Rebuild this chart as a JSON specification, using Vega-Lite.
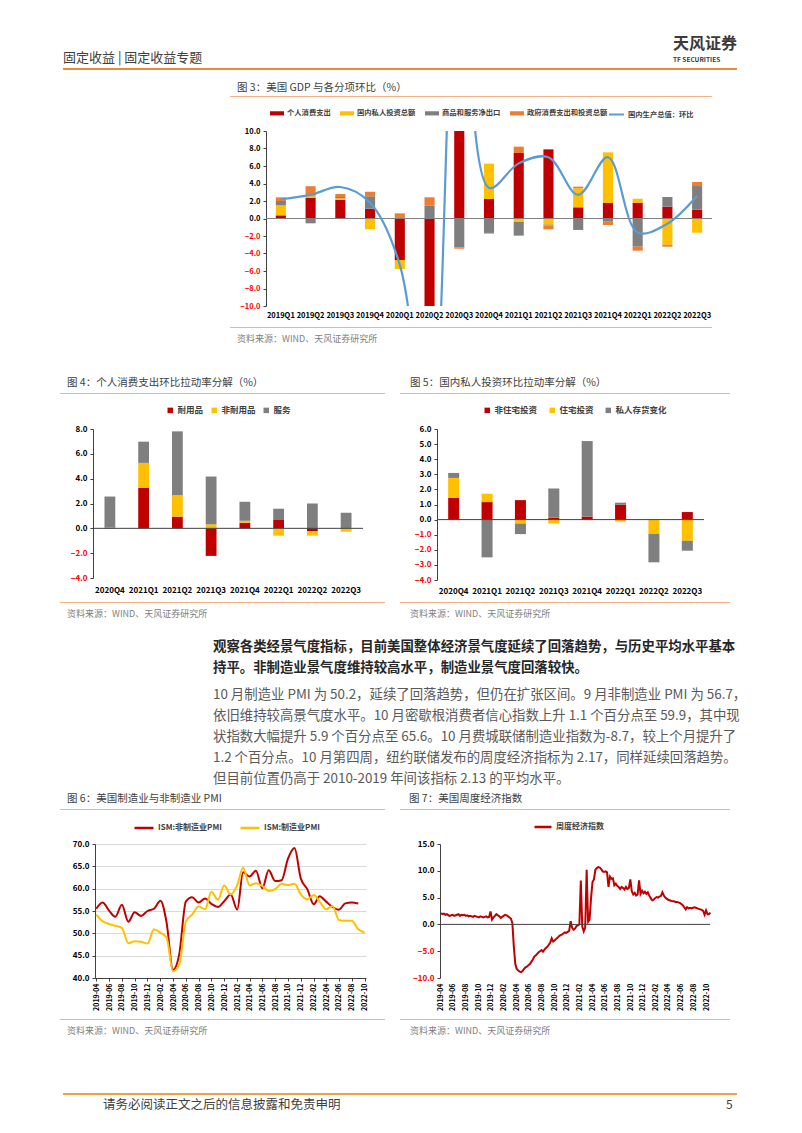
{
"$schema": "https://vega.github.io/schema/vega-lite/v6.json",
"padding": 0,
"autosize": {"type": "pad"},
"background": "#FFFFFF",
"spacing": 0,
"resolve": {"scale": {"color": "independent", "stroke": "independent"}, "legend": {"color": "independent", "stroke": "independent"}},
"data": {"values": [{}]},
"config": {
 "font": "Noto Sans CJK SC",
 "view": {"stroke": null},
 "axis": {"labelFont": "Noto Sans CJK SC", "labelFontWeight": "bold", "labelFontSize": 7.5, "labelColor": "#000000", "domainColor": "#404040", "tickColor": "#404040", "grid": false, "labelOverlap": false},
 "legend": {"labelFont": "Noto Sans CJK SC", "labelFontWeight": "bold", "labelColor": "#404040", "padding": 0, "labelOffset": 3}
},
"datasets": {
 "gdp": [
  {"q":"2019Q1","s":"个人消费支出","o":1,"v":0.36},{"q":"2019Q1","s":"国内私人投资总额","o":2,"v":1.14},{"q":"2019Q1","s":"商品和服务净出口","o":3,"v":0.5},{"q":"2019Q1","s":"政府消费支出和投资总额","o":4,"v":0.42},
  {"q":"2019Q2","s":"个人消费支出","o":1,"v":2.34},{"q":"2019Q2","s":"国内私人投资总额","o":2,"v":0.25},{"q":"2019Q2","s":"商品和服务净出口","o":3,"v":-0.55},{"q":"2019Q2","s":"政府消费支出和投资总额","o":4,"v":1.1},
  {"q":"2019Q3","s":"个人消费支出","o":1,"v":2.11},{"q":"2019Q3","s":"国内私人投资总额","o":2,"v":0.2},{"q":"2019Q3","s":"商品和服务净出口","o":3,"v":0.15},{"q":"2019Q3","s":"政府消费支出和投资总额","o":4,"v":0.34},
  {"q":"2019Q4","s":"个人消费支出","o":1,"v":1.12},{"q":"2019Q4","s":"国内私人投资总额","o":2,"v":-1.24},{"q":"2019Q4","s":"商品和服务净出口","o":3,"v":1.43},{"q":"2019Q4","s":"政府消费支出和投资总额","o":4,"v":0.52},
  {"q":"2020Q1","s":"个人消费支出","o":1,"v":-4.74},{"q":"2020Q1","s":"国内私人投资总额","o":2,"v":-1.03},{"q":"2020Q1","s":"商品和服务净出口","o":3,"v":0.0},{"q":"2020Q1","s":"政府消费支出和投资总额","o":4,"v":0.59},
  {"q":"2020Q2","s":"个人消费支出","o":1,"v":-24.0},{"q":"2020Q2","s":"国内私人投资总额","o":2,"v":-8.0},{"q":"2020Q2","s":"商品和服务净出口","o":3,"v":1.45},{"q":"2020Q2","s":"政府消费支出和投资总额","o":4,"v":0.97},
  {"q":"2020Q3","s":"个人消费支出","o":1,"v":25.0},{"q":"2020Q3","s":"国内私人投资总额","o":2,"v":12.0},{"q":"2020Q3","s":"商品和服务净出口","o":3,"v":-3.3},{"q":"2020Q3","s":"政府消费支出和投资总额","o":4,"v":-0.15},
  {"q":"2020Q4","s":"个人消费支出","o":1,"v":2.23},{"q":"2020Q4","s":"国内私人投资总额","o":2,"v":4.04},{"q":"2020Q4","s":"商品和服务净出口","o":3,"v":-1.65},{"q":"2020Q4","s":"政府消费支出和投资总额","o":4,"v":-0.08},
  {"q":"2021Q1","s":"个人消费支出","o":1,"v":7.49},{"q":"2021Q1","s":"国内私人投资总额","o":2,"v":-0.4},{"q":"2021Q1","s":"商品和服务净出口","o":3,"v":-1.56},{"q":"2021Q1","s":"政府消费支出和投资总额","o":4,"v":0.72},
  {"q":"2021Q2","s":"个人消费支出","o":1,"v":7.9},{"q":"2021Q2","s":"国内私人投资总额","o":2,"v":-0.7},{"q":"2021Q2","s":"商品和服务净出口","o":3,"v":-0.1},{"q":"2021Q2","s":"政府消费支出和投资总额","o":4,"v":-0.44},
  {"q":"2021Q3","s":"个人消费支出","o":1,"v":1.28},{"q":"2021Q3","s":"国内私人投资总额","o":2,"v":2.17},{"q":"2021Q3","s":"商品和服务净出口","o":3,"v":-1.31},{"q":"2021Q3","s":"政府消费支出和投资总额","o":4,"v":0.19},
  {"q":"2021Q4","s":"个人消费支出","o":1,"v":1.77},{"q":"2021Q4","s":"国内私人投资总额","o":2,"v":5.79},{"q":"2021Q4","s":"商品和服务净出口","o":3,"v":-0.3},{"q":"2021Q4","s":"政府消费支出和投资总额","o":4,"v":-0.44},
  {"q":"2022Q1","s":"个人消费支出","o":1,"v":1.81},{"q":"2022Q1","s":"国内私人投资总额","o":2,"v":0.45},{"q":"2022Q1","s":"商品和服务净出口","o":3,"v":-3.22},{"q":"2022Q1","s":"政府消费支出和投资总额","o":4,"v":-0.46},
  {"q":"2022Q2","s":"个人消费支出","o":1,"v":1.35},{"q":"2022Q2","s":"国内私人投资总额","o":2,"v":-2.99},{"q":"2022Q2","s":"商品和服务净出口","o":3,"v":1.11},{"q":"2022Q2","s":"政府消费支出和投资总额","o":4,"v":-0.23},
  {"q":"2022Q3","s":"个人消费支出","o":1,"v":1.01},{"q":"2022Q3","s":"国内私人投资总额","o":2,"v":-1.62},{"q":"2022Q3","s":"商品和服务净出口","o":3,"v":2.7},{"q":"2022Q3","s":"政府消费支出和投资总额","o":4,"v":0.46}
 ],
 "gdpline": [
  {"q":"2019Q1","v":2.2},{"q":"2019Q2","v":2.7},{"q":"2019Q3","v":3.6},{"q":"2019Q4","v":1.8},{"q":"2020Q1","v":-5.3},{"q":"2020Q2","v":-28.0},{"q":"2020Q3","v":34.8},{"q":"2020Q4","v":3.5},{"q":"2021Q1","v":6.3},{"q":"2021Q2","v":7.0},{"q":"2021Q3","v":2.7},{"q":"2021Q4","v":7.0},{"q":"2022Q1","v":-1.6},{"q":"2022Q2","v":-0.6},{"q":"2022Q3","v":2.6}
 ],
 "pce": [
  {"q":"2020Q4","s":"耐用品","o":1,"v":0.06},{"q":"2020Q4","s":"非耐用品","o":2,"v":0.02},{"q":"2020Q4","s":"服务","o":3,"v":2.48},
  {"q":"2021Q1","s":"耐用品","o":1,"v":3.26},{"q":"2021Q1","s":"非耐用品","o":2,"v":2.01},{"q":"2021Q1","s":"服务","o":3,"v":1.71},
  {"q":"2021Q2","s":"耐用品","o":1,"v":0.94},{"q":"2021Q2","s":"非耐用品","o":2,"v":1.73},{"q":"2021Q2","s":"服务","o":3,"v":5.14},
  {"q":"2021Q3","s":"耐用品","o":1,"v":-2.22},{"q":"2021Q3","s":"非耐用品","o":2,"v":0.32},{"q":"2021Q3","s":"服务","o":3,"v":3.85},
  {"q":"2021Q4","s":"耐用品","o":1,"v":0.45},{"q":"2021Q4","s":"非耐用品","o":2,"v":0.16},{"q":"2021Q4","s":"服务","o":3,"v":1.53},
  {"q":"2022Q1","s":"耐用品","o":1,"v":0.67},{"q":"2022Q1","s":"非耐用品","o":2,"v":-0.59},{"q":"2022Q1","s":"服务","o":3,"v":0.91},
  {"q":"2022Q2","s":"耐用品","o":1,"v":-0.24},{"q":"2022Q2","s":"非耐用品","o":2,"v":-0.35},{"q":"2022Q2","s":"服务","o":3,"v":2.0},
  {"q":"2022Q3","s":"耐用品","o":1,"v":-0.02},{"q":"2022Q3","s":"非耐用品","o":2,"v":-0.25},{"q":"2022Q3","s":"服务","o":3,"v":1.26}
 ],
 "inv": [
  {"q":"2020Q4","s":"非住宅投资","o":1,"v":1.45},{"q":"2020Q4","s":"住宅投资","o":2,"v":1.31},{"q":"2020Q4","s":"私人存货变化","o":3,"v":0.33},
  {"q":"2021Q1","s":"非住宅投资","o":1,"v":1.16},{"q":"2021Q1","s":"住宅投资","o":2,"v":0.55},{"q":"2021Q1","s":"私人存货变化","o":3,"v":-2.5},
  {"q":"2021Q2","s":"非住宅投资","o":1,"v":1.29},{"q":"2021Q2","s":"住宅投资","o":2,"v":-0.26},{"q":"2021Q2","s":"私人存货变化","o":3,"v":-0.7},
  {"q":"2021Q3","s":"非住宅投资","o":1,"v":0.13},{"q":"2021Q3","s":"住宅投资","o":2,"v":-0.26},{"q":"2021Q3","s":"私人存货变化","o":3,"v":1.93},
  {"q":"2021Q4","s":"非住宅投资","o":1,"v":0.2},{"q":"2021Q4","s":"住宅投资","o":2,"v":-0.03},{"q":"2021Q4","s":"私人存货变化","o":3,"v":5.0},
  {"q":"2022Q1","s":"非住宅投资","o":1,"v":0.99},{"q":"2022Q1","s":"住宅投资","o":2,"v":-0.13},{"q":"2022Q1","s":"私人存货变化","o":3,"v":0.13},
  {"q":"2022Q2","s":"非住宅投资","o":1,"v":0.0},{"q":"2022Q2","s":"住宅投资","o":2,"v":-0.94},{"q":"2022Q2","s":"私人存货变化","o":3,"v":-1.89},
  {"q":"2022Q3","s":"非住宅投资","o":1,"v":0.5},{"q":"2022Q3","s":"住宅投资","o":2,"v":-1.4},{"q":"2022Q3","s":"私人存货变化","o":3,"v":-0.66}
 ],
 "pmi": [
  {"d":"2019/04/01","s":"ISM:非制造业PMI","v":55.5},{"d":"2019/05/01","s":"ISM:非制造业PMI","v":56.9},{"d":"2019/06/01","s":"ISM:非制造业PMI","v":55.1},{"d":"2019/07/01","s":"ISM:非制造业PMI","v":53.7},{"d":"2019/08/01","s":"ISM:非制造业PMI","v":56.4},{"d":"2019/09/01","s":"ISM:非制造业PMI","v":52.6},{"d":"2019/10/01","s":"ISM:非制造业PMI","v":54.7},{"d":"2019/11/01","s":"ISM:非制造业PMI","v":53.9},{"d":"2019/12/01","s":"ISM:非制造业PMI","v":55.0},
  {"d":"2020/01/01","s":"ISM:非制造业PMI","v":55.5},{"d":"2020/02/01","s":"ISM:非制造业PMI","v":57.3},{"d":"2020/03/01","s":"ISM:非制造业PMI","v":52.5},{"d":"2020/04/01","s":"ISM:非制造业PMI","v":41.8},{"d":"2020/05/01","s":"ISM:非制造业PMI","v":45.4},{"d":"2020/06/01","s":"ISM:非制造业PMI","v":57.1},{"d":"2020/07/01","s":"ISM:非制造业PMI","v":58.1},{"d":"2020/08/01","s":"ISM:非制造业PMI","v":56.9},{"d":"2020/09/01","s":"ISM:非制造业PMI","v":57.8},{"d":"2020/10/01","s":"ISM:非制造业PMI","v":56.6},{"d":"2020/11/01","s":"ISM:非制造业PMI","v":55.9},{"d":"2020/12/01","s":"ISM:非制造业PMI","v":57.2},
  {"d":"2021/01/01","s":"ISM:非制造业PMI","v":58.7},{"d":"2021/02/01","s":"ISM:非制造业PMI","v":55.3},{"d":"2021/03/01","s":"ISM:非制造业PMI","v":63.7},{"d":"2021/04/01","s":"ISM:非制造业PMI","v":62.7},{"d":"2021/05/01","s":"ISM:非制造业PMI","v":64.0},{"d":"2021/06/01","s":"ISM:非制造业PMI","v":60.1},{"d":"2021/07/01","s":"ISM:非制造业PMI","v":64.1},{"d":"2021/08/01","s":"ISM:非制造业PMI","v":61.7},{"d":"2021/09/01","s":"ISM:非制造业PMI","v":61.9},{"d":"2021/10/01","s":"ISM:非制造业PMI","v":66.7},{"d":"2021/11/01","s":"ISM:非制造业PMI","v":69.1},{"d":"2021/12/01","s":"ISM:非制造业PMI","v":62.3},
  {"d":"2022/01/01","s":"ISM:非制造业PMI","v":59.9},{"d":"2022/02/01","s":"ISM:非制造业PMI","v":56.5},{"d":"2022/03/01","s":"ISM:非制造业PMI","v":58.3},{"d":"2022/04/01","s":"ISM:非制造业PMI","v":57.1},{"d":"2022/05/01","s":"ISM:非制造业PMI","v":55.9},{"d":"2022/06/01","s":"ISM:非制造业PMI","v":55.3},{"d":"2022/07/01","s":"ISM:非制造业PMI","v":56.7},{"d":"2022/08/01","s":"ISM:非制造业PMI","v":56.9},{"d":"2022/09/01","s":"ISM:非制造业PMI","v":56.7},
  {"d":"2019/04/01","s":"ISM:制造业PMI","v":54.2},{"d":"2019/05/01","s":"ISM:制造业PMI","v":52.7},{"d":"2019/06/01","s":"ISM:制造业PMI","v":52.1},{"d":"2019/07/01","s":"ISM:制造业PMI","v":51.7},{"d":"2019/08/01","s":"ISM:制造业PMI","v":51.2},{"d":"2019/09/01","s":"ISM:制造业PMI","v":47.8},{"d":"2019/10/01","s":"ISM:制造业PMI","v":48.2},{"d":"2019/11/01","s":"ISM:制造业PMI","v":48.1},{"d":"2019/12/01","s":"ISM:制造业PMI","v":47.7},
  {"d":"2020/01/01","s":"ISM:制造业PMI","v":50.9},{"d":"2020/02/01","s":"ISM:制造业PMI","v":50.1},{"d":"2020/03/01","s":"ISM:制造业PMI","v":49.1},{"d":"2020/04/01","s":"ISM:制造业PMI","v":41.5},{"d":"2020/05/01","s":"ISM:制造业PMI","v":43.1},{"d":"2020/06/01","s":"ISM:制造业PMI","v":52.6},{"d":"2020/07/01","s":"ISM:制造业PMI","v":54.2},{"d":"2020/08/01","s":"ISM:制造业PMI","v":56.0},{"d":"2020/09/01","s":"ISM:制造业PMI","v":55.4},{"d":"2020/10/01","s":"ISM:制造业PMI","v":59.3},{"d":"2020/11/01","s":"ISM:制造业PMI","v":57.5},{"d":"2020/12/01","s":"ISM:制造业PMI","v":60.7},
  {"d":"2021/01/01","s":"ISM:制造业PMI","v":58.7},{"d":"2021/02/01","s":"ISM:制造业PMI","v":60.8},{"d":"2021/03/01","s":"ISM:制造业PMI","v":64.7},{"d":"2021/04/01","s":"ISM:制造业PMI","v":60.7},{"d":"2021/05/01","s":"ISM:制造业PMI","v":61.2},{"d":"2021/06/01","s":"ISM:制造业PMI","v":60.6},{"d":"2021/07/01","s":"ISM:制造业PMI","v":59.5},{"d":"2021/08/01","s":"ISM:制造业PMI","v":59.9},{"d":"2021/09/01","s":"ISM:制造业PMI","v":61.1},{"d":"2021/10/01","s":"ISM:制造业PMI","v":60.8},{"d":"2021/11/01","s":"ISM:制造业PMI","v":61.1},{"d":"2021/12/01","s":"ISM:制造业PMI","v":58.7},
  {"d":"2022/01/01","s":"ISM:制造业PMI","v":57.6},{"d":"2022/02/01","s":"ISM:制造业PMI","v":58.6},{"d":"2022/03/01","s":"ISM:制造业PMI","v":57.1},{"d":"2022/04/01","s":"ISM:制造业PMI","v":55.4},{"d":"2022/05/01","s":"ISM:制造业PMI","v":56.1},{"d":"2022/06/01","s":"ISM:制造业PMI","v":53.0},{"d":"2022/07/01","s":"ISM:制造业PMI","v":52.8},{"d":"2022/08/01","s":"ISM:制造业PMI","v":52.8},{"d":"2022/09/01","s":"ISM:制造业PMI","v":50.9},{"d":"2022/10/01","s":"ISM:制造业PMI","v":50.2}
 ],
 "wei": [
  {"d":"2019/04/06","v":2.1},{"d":"2019/04/13","v":1.9},{"d":"2019/04/20","v":2.0},{"d":"2019/04/27","v":1.8},{"d":"2019/05/04","v":1.9},{"d":"2019/05/11","v":1.7},{"d":"2019/05/18","v":1.6},{"d":"2019/05/25","v":1.7},{"d":"2019/06/01","v":1.8},{"d":"2019/06/08","v":1.6},{"d":"2019/06/15","v":1.7},{"d":"2019/06/22","v":1.8},{"d":"2019/06/29","v":1.9},{"d":"2019/07/06","v":1.6},{"d":"2019/07/13","v":1.8},{"d":"2019/07/20","v":1.7},{"d":"2019/07/27","v":1.8},{"d":"2019/08/03","v":1.6},{"d":"2019/08/10","v":1.7},{"d":"2019/08/17","v":1.5},{"d":"2019/08/24","v":1.6},{"d":"2019/08/31","v":1.5},{"d":"2019/09/07","v":1.4},{"d":"2019/09/14","v":1.6},{"d":"2019/09/21","v":1.5},{"d":"2019/09/28","v":1.4},{"d":"2019/10/05","v":1.3},{"d":"2019/10/12","v":1.5},{"d":"2019/10/19","v":1.4},{"d":"2019/10/26","v":1.3},{"d":"2019/11/02","v":1.4},{"d":"2019/11/09","v":1.5},{"d":"2019/11/16","v":1.3},{"d":"2019/11/23","v":1.4},{"d":"2019/11/30","v":2.4},{"d":"2019/12/07","v":0.9},{"d":"2019/12/14","v":1.3},{"d":"2019/12/21","v":1.6},{"d":"2019/12/28","v":1.9},
  {"d":"2020/01/04","v":1.7},{"d":"2020/01/11","v":1.5},{"d":"2020/01/18","v":1.2},{"d":"2020/01/25","v":1.4},{"d":"2020/02/01","v":1.6},{"d":"2020/02/08","v":1.8},{"d":"2020/02/15","v":1.7},{"d":"2020/02/22","v":1.5},{"d":"2020/02/29","v":1.3},{"d":"2020/03/07","v":1.1},{"d":"2020/03/14","v":0.2},{"d":"2020/03/21","v":-4.2},{"d":"2020/03/28","v":-7.4},{"d":"2020/04/04","v":-8.3},{"d":"2020/04/11","v":-8.6},{"d":"2020/04/18","v":-8.8},{"d":"2020/04/25","v":-8.9},{"d":"2020/05/02","v":-8.7},{"d":"2020/05/09","v":-8.3},{"d":"2020/05/16","v":-8.0},{"d":"2020/05/23","v":-7.9},{"d":"2020/05/30","v":-7.6},{"d":"2020/06/06","v":-7.4},{"d":"2020/06/13","v":-7.0},{"d":"2020/06/20","v":-6.6},{"d":"2020/06/27","v":-6.0},{"d":"2020/07/04","v":-5.8},{"d":"2020/07/11","v":-5.5},{"d":"2020/07/18","v":-5.2},{"d":"2020/07/25","v":-5.0},{"d":"2020/08/01","v":-4.8},{"d":"2020/08/08","v":-5.1},{"d":"2020/08/15","v":-4.7},{"d":"2020/08/22","v":-4.4},{"d":"2020/08/29","v":-4.2},{"d":"2020/09/05","v":-3.8},{"d":"2020/09/12","v":-3.4},{"d":"2020/09/19","v":-2.6},{"d":"2020/09/26","v":-3.2},{"d":"2020/10/03","v":-3.0},{"d":"2020/10/10","v":-2.7},{"d":"2020/10/17","v":-2.5},{"d":"2020/10/24","v":-2.2},{"d":"2020/10/31","v":-2.0},{"d":"2020/11/07","v":-1.9},{"d":"2020/11/14","v":-1.7},{"d":"2020/11/21","v":-1.5},{"d":"2020/11/28","v":-1.6},{"d":"2020/12/05","v":-1.4},{"d":"2020/12/12","v":-1.2},{"d":"2020/12/19","v":0.6},{"d":"2020/12/26","v":-0.6},
  {"d":"2021/01/02","v":-1.0},{"d":"2021/01/09","v":-0.8},{"d":"2021/01/16","v":-0.3},{"d":"2021/01/23","v":-0.2},{"d":"2021/01/30","v":0.0},{"d":"2021/02/06","v":8.2},{"d":"2021/02/13","v":-0.4},{"d":"2021/02/20","v":-1.3},{"d":"2021/02/27","v":-0.6},{"d":"2021/03/06","v":10.2},{"d":"2021/03/13","v":0.5},{"d":"2021/03/20","v":0.9},{"d":"2021/03/27","v":4.8},{"d":"2021/04/03","v":7.9},{"d":"2021/04/10","v":8.4},{"d":"2021/04/17","v":10.2},{"d":"2021/04/24","v":10.5},{"d":"2021/05/01","v":10.7},{"d":"2021/05/08","v":10.6},{"d":"2021/05/15","v":10.3},{"d":"2021/05/22","v":9.9},{"d":"2021/05/29","v":9.8},{"d":"2021/06/05","v":9.9},{"d":"2021/06/12","v":9.7},{"d":"2021/06/19","v":7.0},{"d":"2021/06/26","v":8.9},{"d":"2021/07/03","v":8.5},{"d":"2021/07/10","v":8.6},{"d":"2021/07/17","v":7.3},{"d":"2021/07/24","v":7.6},{"d":"2021/07/31","v":7.2},{"d":"2021/08/07","v":7.0},{"d":"2021/08/14","v":6.6},{"d":"2021/08/21","v":7.0},{"d":"2021/08/28","v":6.8},{"d":"2021/09/04","v":6.5},{"d":"2021/09/11","v":7.0},{"d":"2021/09/18","v":6.6},{"d":"2021/09/25","v":6.8},{"d":"2021/10/02","v":8.4},{"d":"2021/10/09","v":6.2},{"d":"2021/10/16","v":5.6},{"d":"2021/10/23","v":5.9},{"d":"2021/10/30","v":5.4},{"d":"2021/11/06","v":5.6},{"d":"2021/11/13","v":8.2},{"d":"2021/11/20","v":5.7},{"d":"2021/11/27","v":6.3},{"d":"2021/12/04","v":5.8},{"d":"2021/12/11","v":6.1},{"d":"2021/12/18","v":5.7},{"d":"2021/12/25","v":6.0},
  {"d":"2022/01/01","v":5.4},{"d":"2022/01/08","v":4.9},{"d":"2022/01/15","v":4.5},{"d":"2022/01/22","v":4.6},{"d":"2022/01/29","v":4.9},{"d":"2022/02/05","v":5.1},{"d":"2022/02/12","v":5.0},{"d":"2022/02/19","v":5.2},{"d":"2022/02/26","v":5.3},{"d":"2022/03/05","v":6.0},{"d":"2022/03/12","v":5.4},{"d":"2022/03/19","v":5.0},{"d":"2022/03/26","v":4.8},{"d":"2022/04/02","v":4.6},{"d":"2022/04/09","v":4.5},{"d":"2022/04/16","v":4.4},{"d":"2022/04/23","v":4.3},{"d":"2022/04/30","v":4.3},{"d":"2022/05/07","v":4.2},{"d":"2022/05/14","v":4.2},{"d":"2022/05/21","v":4.1},{"d":"2022/05/28","v":4.0},{"d":"2022/06/04","v":3.8},{"d":"2022/06/11","v":3.6},{"d":"2022/06/18","v":3.2},{"d":"2022/06/25","v":2.8},{"d":"2022/07/02","v":3.2},{"d":"2022/07/09","v":3.0},{"d":"2022/07/16","v":3.1},{"d":"2022/07/23","v":3.0},{"d":"2022/07/30","v":3.1},{"d":"2022/08/06","v":3.2},{"d":"2022/08/13","v":3.1},{"d":"2022/08/20","v":3.0},{"d":"2022/08/27","v":2.9},{"d":"2022/09/03","v":2.8},{"d":"2022/09/10","v":2.7},{"d":"2022/09/17","v":2.5},{"d":"2022/09/24","v":1.8},{"d":"2022/10/01","v":2.6},{"d":"2022/10/08","v":1.9},{"d":"2022/10/15","v":1.9},{"d":"2022/10/22","v":2.2}
 ],
 "bold": [
  {"l":1,"t":"观察各类经景气度指标，目前美国整体经济景气度延续了回落趋势，与历史平均水平基本"},
  {"l":2,"t":"持平。非制造业景气度维持较高水平，制造业景气度回落较快。"}
 ],
 "para": [
  {"l":1,"t":"10 月制造业 PMI 为 50.2，延续了回落趋势，但仍在扩张区间。9 月非制造业 PMI 为  56.7，"},
  {"l":2,"t":"依旧维持较高景气度水平。10 月密歇根消费者信心指数上升 1.1 个百分点至 59.9，其中现"},
  {"l":3,"t":"状指数大幅提升 5.9 个百分点至 65.6。10 月费城联储制造业指数为-8.7，较上个月提升了"},
  {"l":4,"t":"1.2 个百分点。10 月第四周，纽约联储发布的周度经济指标为 2.17，同样延续回落趋势。"},
  {"l":5,"t":"但目前位置仍高于 2010-2019 年间该指标 2.13 的平均水平。"}
 ]
},
"vconcat": [
 {"width": 802, "height": 36, "mark": {"type": "point", "opacity": 0, "size": 0}},
 {"hconcat": [
   {"width": 673, "height": 1, "mark": {"type": "point", "opacity": 0, "size": 0}},
   {"width": 70, "height": 16, "mark": {"type": "text", "text": "天风证券", "align": "left", "baseline": "middle", "fontSize": 16, "fontWeight": "bold", "color": "#3A3A3A"},
    "encoding": {"x": {"datum": 0, "type": "quantitative", "scale": {"domain": [0, 1]}, "axis": null}, "y": {"datum": 0.5, "type": "quantitative", "scale": {"domain": [0, 1]}, "axis": null}}}
  ], "spacing": 0, "bounds": "flush"},
 {"hconcat": [
   {"width": 63, "height": 1, "mark": {"type": "point", "opacity": 0, "size": 0}},
   {"width": 400, "height": 12, "mark": {"type": "text", "text": "固定收益 | 固定收益专题", "align": "left", "baseline": "middle", "fontSize": 13, "color": "#404040"},
    "encoding": {"x": {"datum": 0, "type": "quantitative", "scale": {"domain": [0, 1]}, "axis": null}, "y": {"datum": 0.5, "type": "quantitative", "scale": {"domain": [0, 1]}, "axis": null}}},
   {"width": 210, "height": 1, "mark": {"type": "point", "opacity": 0, "size": 0}},
   {"width": 64, "height": 16, "mark": {"type": "text", "text": "TF SECURITIES", "align": "left", "baseline": "middle", "fontSize": 6.5, "fontWeight": "bold", "color": "#3A3A3A"},
    "encoding": {"x": {"datum": 0, "type": "quantitative", "scale": {"domain": [0, 1]}, "axis": null}, "y": {"datum": 0.5, "type": "quantitative", "scale": {"domain": [0, 1]}, "axis": null}}}
  ], "spacing": 0, "bounds": "flush"},
 {"hconcat": [
   {"width": 63, "height": 2, "mark": {"type": "point", "opacity": 0, "size": 0}},
   {"width": 674, "height": 2, "mark": {"type": "point", "opacity": 0, "size": 0}, "view": {"fill": "#ED8B35", "stroke": null}}
  ], "spacing": 0, "bounds": "flush"},
 {"width": 802, "height": 10, "mark": {"type": "point", "opacity": 0, "size": 0}},
 {"hconcat": [
   {"width": 237, "height": 1, "mark": {"type": "point", "opacity": 0, "size": 0}},
   {"width": 470, "height": 16, "mark": {"type": "text", "text": "图 3：美国 GDP 与各分项环比（%）", "align": "left", "baseline": "middle", "fontSize": 10.5, "color": "#404040"},
    "encoding": {"x": {"datum": 0, "type": "quantitative", "scale": {"domain": [0, 1]}, "axis": null}, "y": {"datum": 0.5, "type": "quantitative", "scale": {"domain": [0, 1]}, "axis": null}}}
  ], "spacing": 0, "bounds": "flush"},
 {"hconcat": [
   {"width": 230, "height": 1, "mark": {"type": "point", "opacity": 0, "size": 0}},
   {"width": 482, "height": 1, "mark": {"type": "point", "opacity": 0, "size": 0}, "view": {"fill": "#F4B183", "stroke": null}}
  ], "spacing": 0, "bounds": "flush"},
 {"width": 802, "height": 9, "mark": {"type": "point", "opacity": 0, "size": 0}},
 {"hconcat": [
   {"width": 270, "height": 1, "mark": {"type": "point", "opacity": 0, "size": 0}},
   {"width": 440, "height": 15,
    "layer": [
     {"data": {"name": "gdp"}, "mark": {"type": "point", "filled": true, "opacity": 0, "size": 0},
      "encoding": {"color": {"field": "s", "type": "nominal", "scale": {"domain": ["个人消费支出", "国内私人投资总额", "商品和服务净出口", "政府消费支出和投资总额"], "range": ["#C00000", "#FFC000", "#7F7F7F", "#ED7D31"]},
       "legend": {"title": null, "orient": "none", "legendX": 0, "legendY": 0, "direction": "horizontal", "symbolType": "M-1,-0.3H1V0.3H-1Z", "symbolSize": 196, "symbolOpacity": 1, "symbolStrokeWidth": 0, "labelFontSize": 7.3, "columnPadding": 9}}}},
     {"mark": {"type": "point", "opacity": 0, "size": 0},
      "encoding": {"stroke": {"datum": "国内生产总值：环比", "type": "nominal", "scale": {"range": ["#5B9BD5"]},
       "legend": {"title": null, "orient": "none", "legendX": 338, "legendY": 0, "symbolType": "stroke", "symbolSize": 225, "symbolStrokeWidth": 2, "symbolOpacity": 1, "labelFontSize": 7.3}}}}
    ]}
  ], "spacing": 0, "bounds": "flush", "resolve": {"scale": {"color": "independent", "stroke": "independent"}, "legend": {"color": "independent", "stroke": "independent"}}},
 {"width": 802, "height": 6, "mark": {"type": "point", "opacity": 0, "size": 0}},
 {"hconcat": [
   {"width": 266, "height": 1, "mark": {"type": "point", "opacity": 0, "size": 0}},
   {"width": 446, "height": 175,
    "layer": [
     {"data": {"name": "gdp"}, "mark": {"type": "bar", "clip": true},
      "encoding": {
       "x": {"field": "q", "type": "nominal", "scale": {"paddingInner": 0.66, "paddingOuter": 0.33}, "axis": {"title": null, "labelAngle": 0, "domain": false, "ticks": false, "labelPadding": 5, "labelFontSize": 7.5, "labelOverlap": false}},
       "y": {"field": "v", "type": "quantitative", "stack": "zero", "scale": {"domain": [-10, 10], "nice": false}, "axis": {"title": null, "values": [-10, -8, -6, -4, -2, 0, 2, 4, 6, 8, 10], "format": ".1f", "tickSize": 3, "labelPadding": 3, "labelOverlap": false, "labelColor": {"condition": {"test": "datum.value < 0", "value": "#FF0000"}, "value": "#000000"}}},
       "color": {"field": "s", "type": "nominal", "scale": {"domain": ["个人消费支出", "国内私人投资总额", "商品和服务净出口", "政府消费支出和投资总额"], "range": ["#C00000", "#FFC000", "#7F7F7F", "#ED7D31"]}, "legend": null},
       "order": {"field": "o", "type": "quantitative"}
      }},
     {"mark": {"type": "rule", "color": "#7F7F7F", "strokeWidth": 1.2},
      "encoding": {"y": {"datum": 0, "type": "quantitative", "axis": {"title": null, "values": [-10, -8, -6, -4, -2, 0, 2, 4, 6, 8, 10], "format": ".1f", "tickSize": 3, "labelPadding": 3, "labelOverlap": false, "labelColor": {"condition": {"test": "datum.value < 0", "value": "#FF0000"}, "value": "#000000"}}}}},
     {"data": {"name": "gdpline"}, "mark": {"type": "line", "interpolate": "catmull-rom", "clip": true, "strokeWidth": 2.2, "color": "#5B9BD5"},
      "encoding": {
       "x": {"field": "q", "type": "nominal", "axis": {"title": null, "labelAngle": 0, "domain": false, "ticks": false, "labelPadding": 5, "labelFontSize": 7.5, "labelOverlap": false}},
       "y": {"field": "v", "type": "quantitative", "axis": {"title": null, "values": [-10, -8, -6, -4, -2, 0, 2, 4, 6, 8, 10], "format": ".1f", "tickSize": 3, "labelPadding": 3, "labelOverlap": false, "labelColor": {"condition": {"test": "datum.value < 0", "value": "#FF0000"}, "value": "#000000"}}}
      }}
    ]}
  ], "spacing": 0, "bounds": "flush", "resolve": {"scale": {"color": "independent", "stroke": "independent"}, "legend": {"color": "independent", "stroke": "independent"}}},
 {"width": 802, "height": 8, "mark": {"type": "point", "opacity": 0, "size": 0}},
 {"hconcat": [
   {"width": 230, "height": 1, "mark": {"type": "point", "opacity": 0, "size": 0}},
   {"width": 482, "height": 1, "mark": {"type": "point", "opacity": 0, "size": 0}, "view": {"fill": "#F4B183", "stroke": null}}
  ], "spacing": 0, "bounds": "flush"},
 {"hconcat": [
   {"width": 237, "height": 1, "mark": {"type": "point", "opacity": 0, "size": 0}},
   {"width": 300, "height": 22, "mark": {"type": "text", "text": "资料来源：WIND、天风证券研究所", "align": "left", "baseline": "middle", "fontSize": 9, "color": "#7F7F7F"},
    "encoding": {"x": {"datum": 0, "type": "quantitative", "scale": {"domain": [0, 1]}, "axis": null}, "y": {"datum": 0.5, "type": "quantitative", "scale": {"domain": [0, 1]}, "axis": null}}}
  ], "spacing": 0, "bounds": "flush"},
 {"width": 802, "height": 27, "mark": {"type": "point", "opacity": 0, "size": 0}},
 {"hconcat": [
   {"width": 67, "height": 1, "mark": {"type": "point", "opacity": 0, "size": 0}},
   {"width": 333, "height": 12, "mark": {"type": "text", "text": "图 4：个人消费支出环比拉动率分解（%）", "align": "left", "baseline": "middle", "fontSize": 10.5, "color": "#404040"},
    "encoding": {"x": {"datum": 0, "type": "quantitative", "scale": {"domain": [0, 1]}, "axis": null}, "y": {"datum": 0.5, "type": "quantitative", "scale": {"domain": [0, 1]}, "axis": null}}},
   {"width": 10, "height": 1, "mark": {"type": "point", "opacity": 0, "size": 0}},
   {"width": 320, "height": 12, "mark": {"type": "text", "text": "图 5：国内私人投资环比拉动率分解（%）", "align": "left", "baseline": "middle", "fontSize": 10.5, "color": "#404040"},
    "encoding": {"x": {"datum": 0, "type": "quantitative", "scale": {"domain": [0, 1]}, "axis": null}, "y": {"datum": 0.5, "type": "quantitative", "scale": {"domain": [0, 1]}, "axis": null}}}
  ], "spacing": 0, "bounds": "flush"},
 {"width": 802, "height": 4, "mark": {"type": "point", "opacity": 0, "size": 0}},
 {"hconcat": [
   {"width": 60, "height": 1, "mark": {"type": "point", "opacity": 0, "size": 0}},
   {"width": 325, "height": 1, "mark": {"type": "point", "opacity": 0, "size": 0}, "view": {"fill": "#F4B183", "stroke": null}},
   {"width": 15, "height": 1, "mark": {"type": "point", "opacity": 0, "size": 0}},
   {"width": 330, "height": 1, "mark": {"type": "point", "opacity": 0, "size": 0}, "view": {"fill": "#F4B183", "stroke": null}}
  ], "spacing": 0, "bounds": "flush"},
 {"width": 802, "height": 12, "mark": {"type": "point", "opacity": 0, "size": 0}},
 {"hconcat": [
   {"width": 166, "height": 1, "mark": {"type": "point", "opacity": 0, "size": 0}},
   {"width": 317, "height": 12, "data": {"name": "pce"}, "mark": {"type": "point", "filled": true, "opacity": 0, "size": 0},
    "encoding": {"color": {"field": "s", "type": "nominal", "scale": {"domain": ["耐用品", "非耐用品", "服务"], "range": ["#C00000", "#FFC000", "#7F7F7F"]},
     "legend": {"title": null, "orient": "none", "legendX": 0, "legendY": 0, "direction": "horizontal", "symbolType": "square", "symbolSize": 30, "symbolOpacity": 1, "symbolStrokeWidth": 0, "labelFontSize": 8.5, "columnPadding": 6}}}},
   {"width": 250, "height": 12, "data": {"name": "inv"}, "mark": {"type": "point", "filled": true, "opacity": 0, "size": 0},
    "encoding": {"color": {"field": "s", "type": "nominal", "scale": {"domain": ["非住宅投资", "住宅投资", "私人存货变化"], "range": ["#C00000", "#FFC000", "#7F7F7F"]},
     "legend": {"title": null, "orient": "none", "legendX": 0, "legendY": 0, "direction": "horizontal", "symbolType": "square", "symbolSize": 30, "symbolOpacity": 1, "symbolStrokeWidth": 0, "labelFontSize": 8.5, "columnPadding": 10}}}}
  ], "spacing": 0, "bounds": "flush", "resolve": {"scale": {"color": "independent"}, "legend": {"color": "independent"}}},
 {"width": 802, "height": 7, "mark": {"type": "point", "opacity": 0, "size": 0}},
 {"hconcat": [
   {"width": 93, "height": 1, "mark": {"type": "point", "opacity": 0, "size": 0}},
   {"width": 270, "height": 149,
    "layer": [
     {"data": {"name": "pce"}, "mark": {"type": "bar"},
      "encoding": {
       "x": {"field": "q", "type": "nominal", "scale": {"paddingInner": 0.68, "paddingOuter": 0.34}, "axis": {"title": null, "labelAngle": 0, "domain": false, "ticks": false, "labelPadding": 8, "labelFontSize": 8, "labelOverlap": false}},
       "y": {"field": "v", "type": "quantitative", "stack": "zero", "scale": {"domain": [-4, 8], "nice": false}, "axis": {"title": null, "values": [-4, -2, 0, 2, 4, 6, 8], "format": ".1f", "tickSize": 3, "labelPadding": 3, "labelFontSize": 8, "labelOverlap": false, "labelColor": {"condition": {"test": "datum.value < 0", "value": "#FF0000"}, "value": "#000000"}}},
       "color": {"field": "s", "type": "nominal", "scale": {"domain": ["耐用品", "非耐用品", "服务"], "range": ["#C00000", "#FFC000", "#7F7F7F"]}, "legend": null},
       "order": {"field": "o", "type": "quantitative"}
      }},
     {"mark": {"type": "rule", "color": "#404040", "strokeWidth": 1},
      "encoding": {"y": {"datum": 0, "type": "quantitative", "axis": {"title": null, "values": [-4, -2, 0, 2, 4, 6, 8], "format": ".1f", "tickSize": 3, "labelPadding": 3, "labelFontSize": 8, "labelOverlap": false, "labelColor": {"condition": {"test": "datum.value < 0", "value": "#FF0000"}, "value": "#000000"}}}}}
    ]},
   {"width": 74, "height": 1, "mark": {"type": "point", "opacity": 0, "size": 0}},
   {"width": 267, "height": 151,
    "layer": [
     {"data": {"name": "inv"}, "mark": {"type": "bar"},
      "encoding": {
       "x": {"field": "q", "type": "nominal", "scale": {"paddingInner": 0.67, "paddingOuter": 0.335}, "axis": {"title": null, "labelAngle": 0, "domain": false, "ticks": false, "labelPadding": 7, "labelFontSize": 8, "labelOverlap": false}},
       "y": {"field": "v", "type": "quantitative", "stack": "zero", "scale": {"domain": [-4, 6], "nice": false}, "axis": {"title": null, "values": [-4, -3, -2, -1, 0, 1, 2, 3, 4, 5, 6], "format": ".1f", "tickSize": 3, "labelPadding": 3, "labelFontSize": 8, "labelOverlap": false, "labelColor": {"condition": {"test": "datum.value < 0", "value": "#FF0000"}, "value": "#000000"}}},
       "color": {"field": "s", "type": "nominal", "scale": {"domain": ["非住宅投资", "住宅投资", "私人存货变化"], "range": ["#C00000", "#FFC000", "#7F7F7F"]}, "legend": null},
       "order": {"field": "o", "type": "quantitative"}
      }},
     {"mark": {"type": "rule", "color": "#404040", "strokeWidth": 1},
      "encoding": {"y": {"datum": 0, "type": "quantitative", "axis": {"title": null, "values": [-4, -3, -2, -1, 0, 1, 2, 3, 4, 5, 6], "format": ".1f", "tickSize": 3, "labelPadding": 3, "labelFontSize": 8, "labelOverlap": false, "labelColor": {"condition": {"test": "datum.value < 0", "value": "#FF0000"}, "value": "#000000"}}}}}
    ]}
  ], "spacing": 0, "bounds": "flush", "resolve": {"scale": {"color": "independent"}, "legend": {"color": "independent"}}},
 {"width": 802, "height": 7, "mark": {"type": "point", "opacity": 0, "size": 0}},
 {"hconcat": [
   {"width": 60, "height": 1, "mark": {"type": "point", "opacity": 0, "size": 0}},
   {"width": 325, "height": 1, "mark": {"type": "point", "opacity": 0, "size": 0}, "view": {"fill": "#F4B183", "stroke": null}},
   {"width": 15, "height": 1, "mark": {"type": "point", "opacity": 0, "size": 0}},
   {"width": 330, "height": 1, "mark": {"type": "point", "opacity": 0, "size": 0}, "view": {"fill": "#F4B183", "stroke": null}}
  ], "spacing": 0, "bounds": "flush"},
 {"hconcat": [
   {"width": 67, "height": 1, "mark": {"type": "point", "opacity": 0, "size": 0}},
   {"width": 333, "height": 22, "mark": {"type": "text", "text": "资料来源：WIND、天风证券研究所", "align": "left", "baseline": "middle", "fontSize": 9, "color": "#7F7F7F"},
    "encoding": {"x": {"datum": 0, "type": "quantitative", "scale": {"domain": [0, 1]}, "axis": null}, "y": {"datum": 0.5, "type": "quantitative", "scale": {"domain": [0, 1]}, "axis": null}}},
   {"width": 10, "height": 1, "mark": {"type": "point", "opacity": 0, "size": 0}},
   {"width": 300, "height": 22, "mark": {"type": "text", "text": "资料来源：WIND、天风证券研究所", "align": "left", "baseline": "middle", "fontSize": 9, "color": "#7F7F7F"},
    "encoding": {"x": {"datum": 0, "type": "quantitative", "scale": {"domain": [0, 1]}, "axis": null}, "y": {"datum": 0.5, "type": "quantitative", "scale": {"domain": [0, 1]}, "axis": null}}}
  ], "spacing": 0, "bounds": "flush"},
 {"width": 802, "height": 12, "mark": {"type": "point", "opacity": 0, "size": 0}},
 {"hconcat": [
   {"width": 213, "height": 1, "mark": {"type": "point", "opacity": 0, "size": 0}},
   {"width": 525, "height": 41, "data": {"name": "bold"},
    "mark": {"type": "text", "align": "left", "baseline": "middle", "fontSize": 13.4, "fontWeight": "bold", "color": "#262626"},
    "encoding": {
     "x": {"datum": 0, "type": "quantitative", "scale": {"domain": [0, 1]}, "axis": null},
     "y": {"field": "l", "type": "ordinal", "axis": null},
     "text": {"field": "t"}
    }}
  ], "spacing": 0, "bounds": "flush"},
 {"width": 802, "height": 6, "mark": {"type": "point", "opacity": 0, "size": 0}},
 {"hconcat": [
   {"width": 213, "height": 1, "mark": {"type": "point", "opacity": 0, "size": 0}},
   {"width": 525, "height": 105, "data": {"name": "para"},
    "mark": {"type": "text", "align": "left", "baseline": "middle", "fontSize": 13.4, "color": "#595959"},
    "encoding": {
     "x": {"datum": 0, "type": "quantitative", "scale": {"domain": [0, 1]}, "axis": null},
     "y": {"field": "l", "type": "ordinal", "axis": null},
     "text": {"field": "t"}
    }}
  ], "spacing": 0, "bounds": "flush"},
 {"width": 802, "height": 2, "mark": {"type": "point", "opacity": 0, "size": 0}},
 {"hconcat": [
   {"width": 67, "height": 1, "mark": {"type": "point", "opacity": 0, "size": 0}},
   {"width": 333, "height": 16, "mark": {"type": "text", "text": "图 6：美国制造业与非制造业 PMI", "align": "left", "baseline": "middle", "fontSize": 10.5, "color": "#404040"},
    "encoding": {"x": {"datum": 0, "type": "quantitative", "scale": {"domain": [0, 1]}, "axis": null}, "y": {"datum": 0.5, "type": "quantitative", "scale": {"domain": [0, 1]}, "axis": null}}},
   {"width": 9, "height": 1, "mark": {"type": "point", "opacity": 0, "size": 0}},
   {"width": 300, "height": 16, "mark": {"type": "text", "text": "图 7：美国周度经济指数", "align": "left", "baseline": "middle", "fontSize": 10.5, "color": "#404040"},
    "encoding": {"x": {"datum": 0, "type": "quantitative", "scale": {"domain": [0, 1]}, "axis": null}, "y": {"datum": 0.5, "type": "quantitative", "scale": {"domain": [0, 1]}, "axis": null}}}
  ], "spacing": 0, "bounds": "flush"},
 {"width": 802, "height": 2, "mark": {"type": "point", "opacity": 0, "size": 0}},
 {"hconcat": [
   {"width": 60, "height": 1, "mark": {"type": "point", "opacity": 0, "size": 0}},
   {"width": 325, "height": 1, "mark": {"type": "point", "opacity": 0, "size": 0}, "view": {"fill": "#F4B183", "stroke": null}},
   {"width": 15, "height": 1, "mark": {"type": "point", "opacity": 0, "size": 0}},
   {"width": 330, "height": 1, "mark": {"type": "point", "opacity": 0, "size": 0}, "view": {"fill": "#F4B183", "stroke": null}}
  ], "spacing": 0, "bounds": "flush"},
 {"width": 802, "height": 7, "mark": {"type": "point", "opacity": 0, "size": 0}},
 {"hconcat": [
   {"width": 133, "height": 1, "mark": {"type": "point", "opacity": 0, "size": 0}},
   {"width": 400, "height": 19, "data": {"name": "pmi"}, "mark": {"type": "point", "opacity": 0, "size": 0},
    "encoding": {"color": {"field": "s", "type": "nominal", "scale": {"domain": ["ISM:非制造业PMI", "ISM:制造业PMI"], "range": ["#C00000", "#FFC000"]},
     "legend": {"title": null, "orient": "none", "legendX": 0, "legendY": 0, "direction": "horizontal", "symbolType": "stroke", "symbolSize": 361, "symbolStrokeWidth": 2.5, "symbolOpacity": 1, "labelFontSize": 8, "columnPadding": 13}}}},
   {"width": 200, "height": 19, "mark": {"type": "point", "opacity": 0, "size": 0},
    "encoding": {"color": {"datum": "周度经济指数", "type": "nominal", "scale": {"range": ["#C00000"]},
     "legend": {"title": null, "orient": "none", "legendX": 0, "legendY": 0, "symbolType": "stroke", "symbolSize": 289, "symbolStrokeWidth": 2.5, "symbolOpacity": 1, "labelFontSize": 8}}}}
  ], "spacing": 0, "bounds": "flush", "resolve": {"scale": {"color": "independent"}, "legend": {"color": "independent"}}},
 {"width": 802, "height": 4, "mark": {"type": "point", "opacity": 0, "size": 0}},
 {"hconcat": [
   {"width": 95, "height": 1, "mark": {"type": "point", "opacity": 0, "size": 0}},
   {"width": 271, "height": 134, "data": {"name": "pmi"},
    "mark": {"type": "line", "interpolate": "monotone", "strokeWidth": 2},
    "encoding": {
     "x": {"field": "d", "type": "temporal", "scale": {"domain": [{"year": 2019, "month": 3, "date": 26}, {"year": 2022, "month": 10, "date": 8}]},
      "axis": {"title": null, "format": "%Y-%m", "labelAngle": -90, "labelFontSize": 7, "tickSize": 3, "labelPadding": 2, "domainColor": "#404040", "labelOverlap": false,
       "values": [{"year": 2019, "month": 4, "date": 1}, {"year": 2019, "month": 6, "date": 1}, {"year": 2019, "month": 8, "date": 1}, {"year": 2019, "month": 10, "date": 1}, {"year": 2019, "month": 12, "date": 1}, {"year": 2020, "month": 2, "date": 1}, {"year": 2020, "month": 4, "date": 1}, {"year": 2020, "month": 6, "date": 1}, {"year": 2020, "month": 8, "date": 1}, {"year": 2020, "month": 10, "date": 1}, {"year": 2020, "month": 12, "date": 1}, {"year": 2021, "month": 2, "date": 1}, {"year": 2021, "month": 4, "date": 1}, {"year": 2021, "month": 6, "date": 1}, {"year": 2021, "month": 8, "date": 1}, {"year": 2021, "month": 10, "date": 1}, {"year": 2021, "month": 12, "date": 1}, {"year": 2022, "month": 2, "date": 1}, {"year": 2022, "month": 4, "date": 1}, {"year": 2022, "month": 6, "date": 1}, {"year": 2022, "month": 8, "date": 1}, {"year": 2022, "month": 10, "date": 1}]}},
     "y": {"field": "v", "type": "quantitative", "scale": {"domain": [40, 70], "nice": false, "zero": false},
      "axis": {"title": null, "values": [40, 45, 50, 55, 60, 65, 70], "format": ".1f", "grid": true, "gridColor": "#D9D9D9", "tickSize": 3, "labelPadding": 3, "labelFontSize": 8, "labelOverlap": false}},
     "color": {"field": "s", "type": "nominal", "scale": {"domain": ["ISM:非制造业PMI", "ISM:制造业PMI"], "range": ["#C00000", "#FFC000"]}, "legend": null}
    }},
   {"width": 74, "height": 1, "mark": {"type": "point", "opacity": 0, "size": 0}},
   {"width": 270, "height": 134,
    "layer": [
     {"data": {"name": "wei"}, "mark": {"type": "line", "strokeWidth": 2, "color": "#C00000"},
      "encoding": {
       "x": {"field": "d", "type": "temporal", "scale": {"domain": [{"year": 2019, "month": 4, "date": 1}, {"year": 2022, "month": 10, "date": 20}]},
        "axis": {"title": null, "format": "%Y-%m", "labelAngle": -90, "labelFontSize": 7, "domain": false, "ticks": false, "labelPadding": 5, "labelOverlap": false,
         "values": [{"year": 2019, "month": 4, "date": 1}, {"year": 2019, "month": 6, "date": 1}, {"year": 2019, "month": 8, "date": 1}, {"year": 2019, "month": 10, "date": 1}, {"year": 2019, "month": 12, "date": 1}, {"year": 2020, "month": 2, "date": 1}, {"year": 2020, "month": 4, "date": 1}, {"year": 2020, "month": 6, "date": 1}, {"year": 2020, "month": 8, "date": 1}, {"year": 2020, "month": 10, "date": 1}, {"year": 2020, "month": 12, "date": 1}, {"year": 2021, "month": 2, "date": 1}, {"year": 2021, "month": 4, "date": 1}, {"year": 2021, "month": 6, "date": 1}, {"year": 2021, "month": 8, "date": 1}, {"year": 2021, "month": 10, "date": 1}, {"year": 2021, "month": 12, "date": 1}, {"year": 2022, "month": 2, "date": 1}, {"year": 2022, "month": 4, "date": 1}, {"year": 2022, "month": 6, "date": 1}, {"year": 2022, "month": 8, "date": 1}, {"year": 2022, "month": 10, "date": 1}]}},
       "y": {"field": "v", "type": "quantitative", "scale": {"domain": [-10, 15], "nice": false},
        "axis": {"title": null, "values": [-10, -5, 0, 5, 10, 15], "format": ".1f", "tickSize": 3, "labelPadding": 3, "labelFontSize": 8, "labelOverlap": false, "labelColor": {"condition": {"test": "datum.value < 0", "value": "#FF0000"}, "value": "#000000"}}}
      }},
     {"mark": {"type": "rule", "color": "#404040", "strokeWidth": 1},
      "encoding": {"y": {"datum": 0, "type": "quantitative", "axis": {"title": null, "values": [-10, -5, 0, 5, 10, 15], "format": ".1f", "tickSize": 3, "labelPadding": 3, "labelFontSize": 8, "labelOverlap": false, "labelColor": {"condition": {"test": "datum.value < 0", "value": "#FF0000"}, "value": "#000000"}}}}}
    ]}
  ], "spacing": 0, "bounds": "flush", "resolve": {"scale": {"color": "independent"}, "legend": {"color": "independent"}}},
 {"width": 802, "height": 8, "mark": {"type": "point", "opacity": 0, "size": 0}},
 {"hconcat": [
   {"width": 60, "height": 1, "mark": {"type": "point", "opacity": 0, "size": 0}},
   {"width": 325, "height": 1, "mark": {"type": "point", "opacity": 0, "size": 0}, "view": {"fill": "#F4B183", "stroke": null}},
   {"width": 15, "height": 1, "mark": {"type": "point", "opacity": 0, "size": 0}},
   {"width": 330, "height": 1, "mark": {"type": "point", "opacity": 0, "size": 0}, "view": {"fill": "#F4B183", "stroke": null}}
  ], "spacing": 0, "bounds": "flush"},
 {"hconcat": [
   {"width": 67, "height": 1, "mark": {"type": "point", "opacity": 0, "size": 0}},
   {"width": 333, "height": 22, "mark": {"type": "text", "text": "资料来源：WIND、天风证券研究所", "align": "left", "baseline": "middle", "fontSize": 9, "color": "#7F7F7F"},
    "encoding": {"x": {"datum": 0, "type": "quantitative", "scale": {"domain": [0, 1]}, "axis": null}, "y": {"datum": 0.5, "type": "quantitative", "scale": {"domain": [0, 1]}, "axis": null}}},
   {"width": 10, "height": 1, "mark": {"type": "point", "opacity": 0, "size": 0}},
   {"width": 300, "height": 22, "mark": {"type": "text", "text": "资料来源：WIND、天风证券研究所", "align": "left", "baseline": "middle", "fontSize": 9, "color": "#7F7F7F"},
    "encoding": {"x": {"datum": 0, "type": "quantitative", "scale": {"domain": [0, 1]}, "axis": null}, "y": {"datum": 0.5, "type": "quantitative", "scale": {"domain": [0, 1]}, "axis": null}}}
  ], "spacing": 0, "bounds": "flush"},
 {"width": 802, "height": 51, "mark": {"type": "point", "opacity": 0, "size": 0}},
 {"hconcat": [
   {"width": 63, "height": 2, "mark": {"type": "point", "opacity": 0, "size": 0}},
   {"width": 674, "height": 2, "mark": {"type": "point", "opacity": 0, "size": 0}, "view": {"fill": "#EFA040", "stroke": null}}
  ], "spacing": 0, "bounds": "flush"},
 {"hconcat": [
   {"width": 103, "height": 1, "mark": {"type": "point", "opacity": 0, "size": 0}},
   {"width": 623, "height": 20, "mark": {"type": "text", "text": "请务必阅读正文之后的信息披露和免责申明", "align": "left", "baseline": "middle", "fontSize": 12.5, "color": "#404040"},
    "encoding": {"x": {"datum": 0, "type": "quantitative", "scale": {"domain": [0, 1]}, "axis": null}, "y": {"datum": 0.5, "type": "quantitative", "scale": {"domain": [0, 1]}, "axis": null}}},
   {"width": 12, "height": 20, "mark": {"type": "text", "text": "5", "align": "left", "baseline": "middle", "fontSize": 12, "color": "#404040"},
    "encoding": {"x": {"datum": 0, "type": "quantitative", "scale": {"domain": [0, 1]}, "axis": null}, "y": {"datum": 0.5, "type": "quantitative", "scale": {"domain": [0, 1]}, "axis": null}}}
  ], "spacing": 0, "bounds": "flush"},
 {"width": 802, "height": 18, "mark": {"type": "point", "opacity": 0, "size": 0}}
]
}
